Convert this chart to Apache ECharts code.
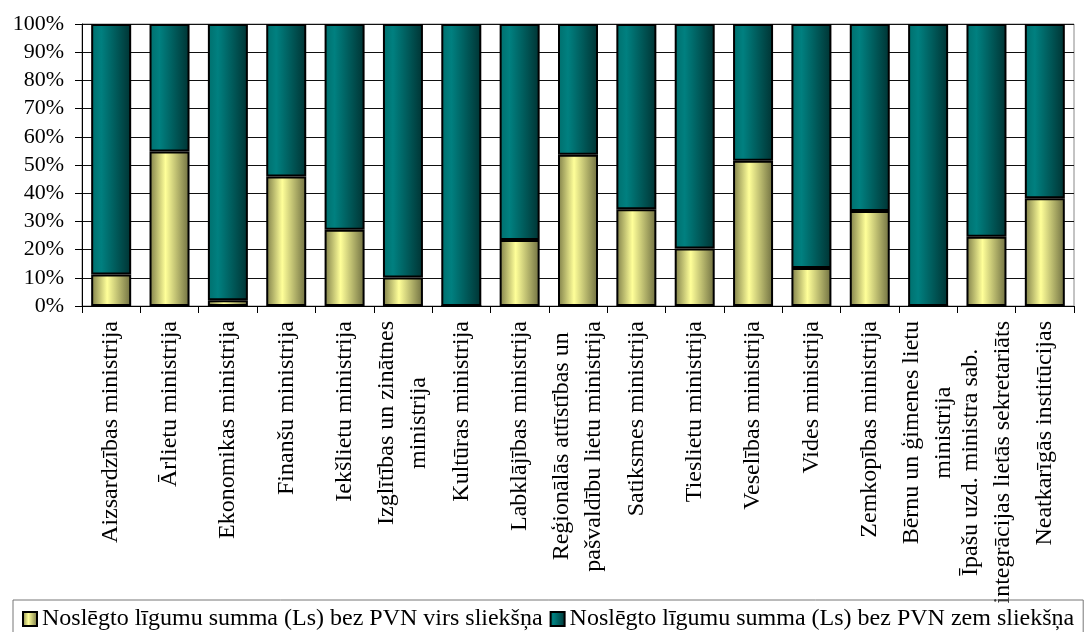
<!DOCTYPE html>
<html>
<head>
<meta charset="utf-8">
<script src="https://cdn.jsdelivr.net/npm/echarts@6/dist/echarts.min.js"></script>
<style>
  html, body { margin: 0; padding: 0; background: #fff; }
  #chart { width: 1087px; height: 632px; }
</style>
</head>
<body>
<div id="chart"></div>
<script>
const ministrijas = [
  'Aizsardzības ministrija',
  'Ārlietu ministrija',
  'Ekonomikas ministrija',
  'Finanšu ministrija',
  'Iekšlietu ministrija',
  'Izglītības un zinātnes\nministrija',
  'Kultūras ministrija',
  'Labklājības ministrija',
  'Reģionālās attīstības un\npašvaldību lietu ministrija',
  'Satiksmes ministrija',
  'Tieslietu ministrija',
  'Veselības ministrija',
  'Vides ministrija',
  'Zemkopības ministrija',
  'Bērnu un ģimenes lietu\nministrija',
  'Īpašu uzd. ministra sab.\nintegrācijas lietās sekretariāts',
  'Neatkarīgās institūcijas'
]
// % no kopējās summas
const virsSliekshna = [11.2, 54.8, 2.0, 45.9, 27.0, 10.1, 0, 23.4, 53.6, 34.3, 20.4, 51.5, 13.5, 33.7, 0, 24.6, 38.2]
const zemSliekshna = [88.8, 45.2, 98.0, 54.1, 73.0, 89.9, 100, 76.6, 46.4, 65.7, 79.6, 48.5, 86.5, 66.3, 100, 75.4, 61.8]
const yTicks = [0, 10, 20, 30, 40, 50, 60, 70, 80, 90, 100]

const fontFamily = '"Liberation Serif", "Times New Roman", serif'

const yellowFill = new echarts.graphic.LinearGradient(0, 0, 1, 0, [
  { offset: 0, color: '#7d7d48' },
  { offset: 0.4, color: '#ffff99' },
  { offset: 1, color: '#6e6e40' }
])
const tealFill = new echarts.graphic.LinearGradient(0, 0, 1, 0, [
  { offset: 0, color: '#006f6d' },
  { offset: 0.25, color: '#008080' },
  { offset: 1, color: '#003333' }
])

const chartInstance = echarts.init(document.getElementById('chart'))

const option = {
  animation: false,
  grid: { left: 82, right: 13, top: 24, bottom: 326, show: true, borderColor: '#888', borderWidth: 1 },
  legend: {
    left: 13,
    top: 600,
    padding: [7, 9, 8, 9],
    borderColor: '#777',
    borderWidth: 1,
    itemWidth: 14,
    itemHeight: 14,
    itemGap: 7,
    icon: 'rect',
    textStyle: { fontFamily, fontSize: 24, color: '#000', padding: [0, 0, 0, 0] }
  },
  xAxis: {
    type: 'category',
    data: ministrijas,
    axisLine: { lineStyle: { color: '#000', width: 1 } },
    axisTick: { show: true, length: 7, lineStyle: { color: '#000' } },
    axisLabel: {
      interval: 0,
      rotate: 90,
      margin: 15,
      formatter: v => v.split('\n').map(s => '{c|' + s + '}').join('\n'),
      rich: { c: { align: 'center', fontFamily, fontSize: 24, lineHeight: 32, color: '#000' } }
    }
  },
  yAxis: {
    type: 'value',
    min: yTicks[0],
    max: yTicks[yTicks.length - 1],
    interval: yTicks[1] - yTicks[0],
    axisLine: { show: true, lineStyle: { color: '#000' } },
    axisTick: { show: true, length: 7, lineStyle: { color: '#000' } },
    splitLine: { lineStyle: { color: '#111', width: 1 } },
    axisLabel: { margin: 18, formatter: '{value}%', fontFamily, fontSize: 22, color: '#000' }
  },
  series: [
    {
      name: 'Noslēgto līgumu summa (Ls) bez PVN virs sliekšņa',
      type: 'bar',
      stack: 'kopa',
      barWidth: 40,
      data: virsSliekshna,
      itemStyle: { color: yellowFill, borderColor: '#000', borderWidth: 2 }
    },
    {
      name: 'Noslēgto līgumu summa (Ls) bez PVN zem sliekšņa',
      type: 'bar',
      stack: 'kopa',
      barWidth: 40,
      data: zemSliekshna,
      itemStyle: { color: tealFill, borderColor: '#000', borderWidth: 2 }
    }
  ]
}

chartInstance.setOption(option)
</script>
</body>
</html>
